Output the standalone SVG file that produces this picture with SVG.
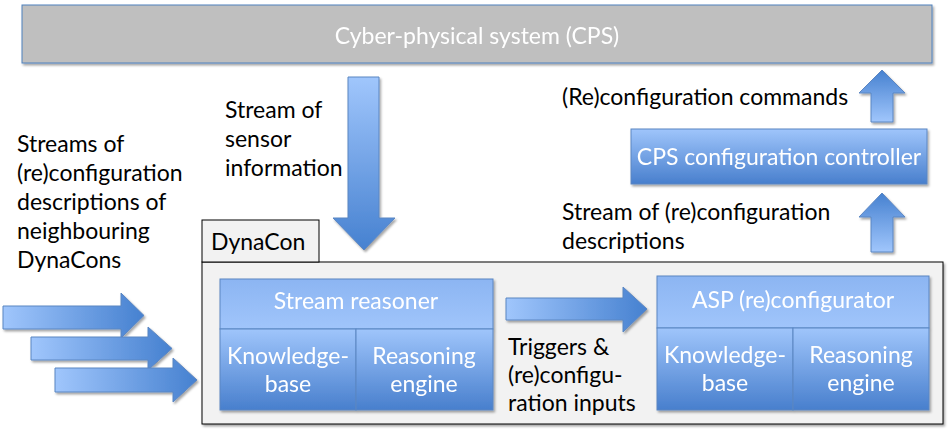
<svg xmlns="http://www.w3.org/2000/svg" width="948" height="431" viewBox="0 0 948 431">
<defs>
<linearGradient id="gBox" x1="0" y1="0" x2="0" y2="1"><stop offset="0" stop-color="#9fc5fb"/><stop offset="1" stop-color="#487fcd"/></linearGradient>
<linearGradient id="gTop" x1="0" y1="0" x2="0" y2="1"><stop offset="0" stop-color="#8cb5f2"/><stop offset="1" stop-color="#a0c5fb"/></linearGradient>
<linearGradient id="gRight" x1="0" y1="0" x2="1" y2="0"><stop offset="0" stop-color="#a0c6fc"/><stop offset="1" stop-color="#4681d0"/></linearGradient>
<linearGradient id="gDown" x1="0" y1="0" x2="0" y2="1"><stop offset="0" stop-color="#a0c6fc"/><stop offset="1" stop-color="#4681d0"/></linearGradient>
<linearGradient id="gUp" x1="0" y1="1" x2="0" y2="0"><stop offset="0" stop-color="#a0c6fc"/><stop offset="1" stop-color="#4681d0"/></linearGradient>
<filter id="sh" x="-5%" y="-10%" width="115%" height="130%"><feDropShadow dx="1.5" dy="2" stdDeviation="1.3" flood-color="#000" flood-opacity="0.35"/></filter>
</defs>
<style>
text{font-family:Lato,"Liberation Sans",sans-serif;font-size:23px}
.k{fill:#000}
.w{fill:#fff}
.c{text-anchor:middle}
.cell{stroke:#5a86c2;stroke-width:1}
.arr{stroke:#5b86c2;stroke-width:1}
</style>
<g id="cps" filter="url(#sh)">
<rect x="22" y="5" width="910" height="58" fill="#bfbfbf" stroke="#4f81bd" stroke-width="1"/>
<text class="w c" x="477" y="44">Cyber-physical system (CPS)</text>
</g>
<g id="labels-left">
<text class="k" x="17" y="152">Streams of</text>
<text class="k" x="17" y="181">(re)configuration</text>
<text class="k" x="17" y="210">descriptions of</text>
<text class="k" x="17" y="239">neighbouring</text>
<text class="k" x="17" y="268">DynaCons</text>
</g>
<g id="label-sensor">
<text class="k" x="225" y="118">Stream of</text>
<text class="k" x="225" y="147">sensor</text>
<text class="k" x="225" y="176">information</text>
</g>
<g id="label-commands"><text class="k" x="562" y="105">(Re)configuration commands</text></g>
<g id="label-descriptions">
<text class="k" x="562" y="220">Stream of (re)configuration</text>
<text class="k" x="562" y="249">descriptions</text>
</g>
<g id="controller" filter="url(#sh)">
<rect x="631" y="129" width="296" height="55" fill="url(#gBox)" class="cell"/>
<text class="w c" x="779" y="165">CPS configuration controller</text>
</g>
<g id="dynacon">
<rect x="202" y="262" width="741" height="162" fill="#f2f2f2" stroke="#000" stroke-width="1" filter="url(#sh)"/>
<rect x="202" y="220" width="117" height="42" fill="#f2f2f2" stroke="#000" stroke-width="1"/>
<text class="k" x="211" y="250">DynaCon</text>
</g>
<g id="stream-reasoner" filter="url(#sh)">
<rect x="220" y="279" width="273" height="50" fill="url(#gTop)" class="cell"/>
<rect x="220" y="329" width="136" height="81" fill="url(#gBox)" class="cell"/>
<rect x="356" y="329" width="137" height="81" fill="url(#gBox)" class="cell"/>
<text class="w c" x="356" y="309">Stream reasoner</text>
<text class="w c" x="288" y="364">Knowledge-</text>
<text class="w c" x="288" y="392">base</text>
<text class="w c" x="424" y="364">Reasoning</text>
<text class="w c" x="424" y="392">engine</text>
</g>
<g id="label-triggers">
<text class="k" x="508" y="355">Triggers &amp;</text>
<text class="k" x="508" y="383">(re)configu-</text>
<text class="k" x="508" y="411">ration inputs</text>
</g>
<g id="asp-reconfigurator" filter="url(#sh)">
<rect x="657" y="276" width="272" height="52" fill="url(#gTop)" class="cell"/>
<rect x="657" y="328" width="136" height="82" fill="url(#gBox)" class="cell"/>
<rect x="793" y="328" width="136" height="82" fill="url(#gBox)" class="cell"/>
<text class="w c" x="793" y="308">ASP (re)configurator</text>
<text class="w c" x="725" y="363">Knowledge-</text>
<text class="w c" x="725" y="391">base</text>
<text class="w c" x="861" y="363">Reasoning</text>
<text class="w c" x="861" y="391">engine</text>
</g>
<g id="connectors" filter="url(#sh)">
<path class="arr" fill="url(#gDown)" d="M348,77 H379 V218 H395 L364,250 L333,218 H348 Z"/>
<path class="arr" fill="url(#gRight)" d="M506,298 H623 V287 L647,309 L623,332 V320 H506 Z"/>
<path class="arr" fill="url(#gUp)" d="M882,70 L905,93 H893 V122 H871 V93 H859 Z"/>
<path class="arr" fill="url(#gUp)" d="M882,193 L905,217 H893 V252 H871 V217 H859 Z"/>
<path class="arr" fill="url(#gRight)" d="M3,306 H121 V293 L144,315.5 L121,338 V329 H3 Z"/>
<path class="arr" fill="url(#gRight)" d="M31,337 H148 V327 L172,348.5 L148,370 V360 H31 Z"/>
<path class="arr" fill="url(#gRight)" d="M55,368 H173 V358 L197,380 L173,402 V392 H55 Z"/>
</g>
</svg>
